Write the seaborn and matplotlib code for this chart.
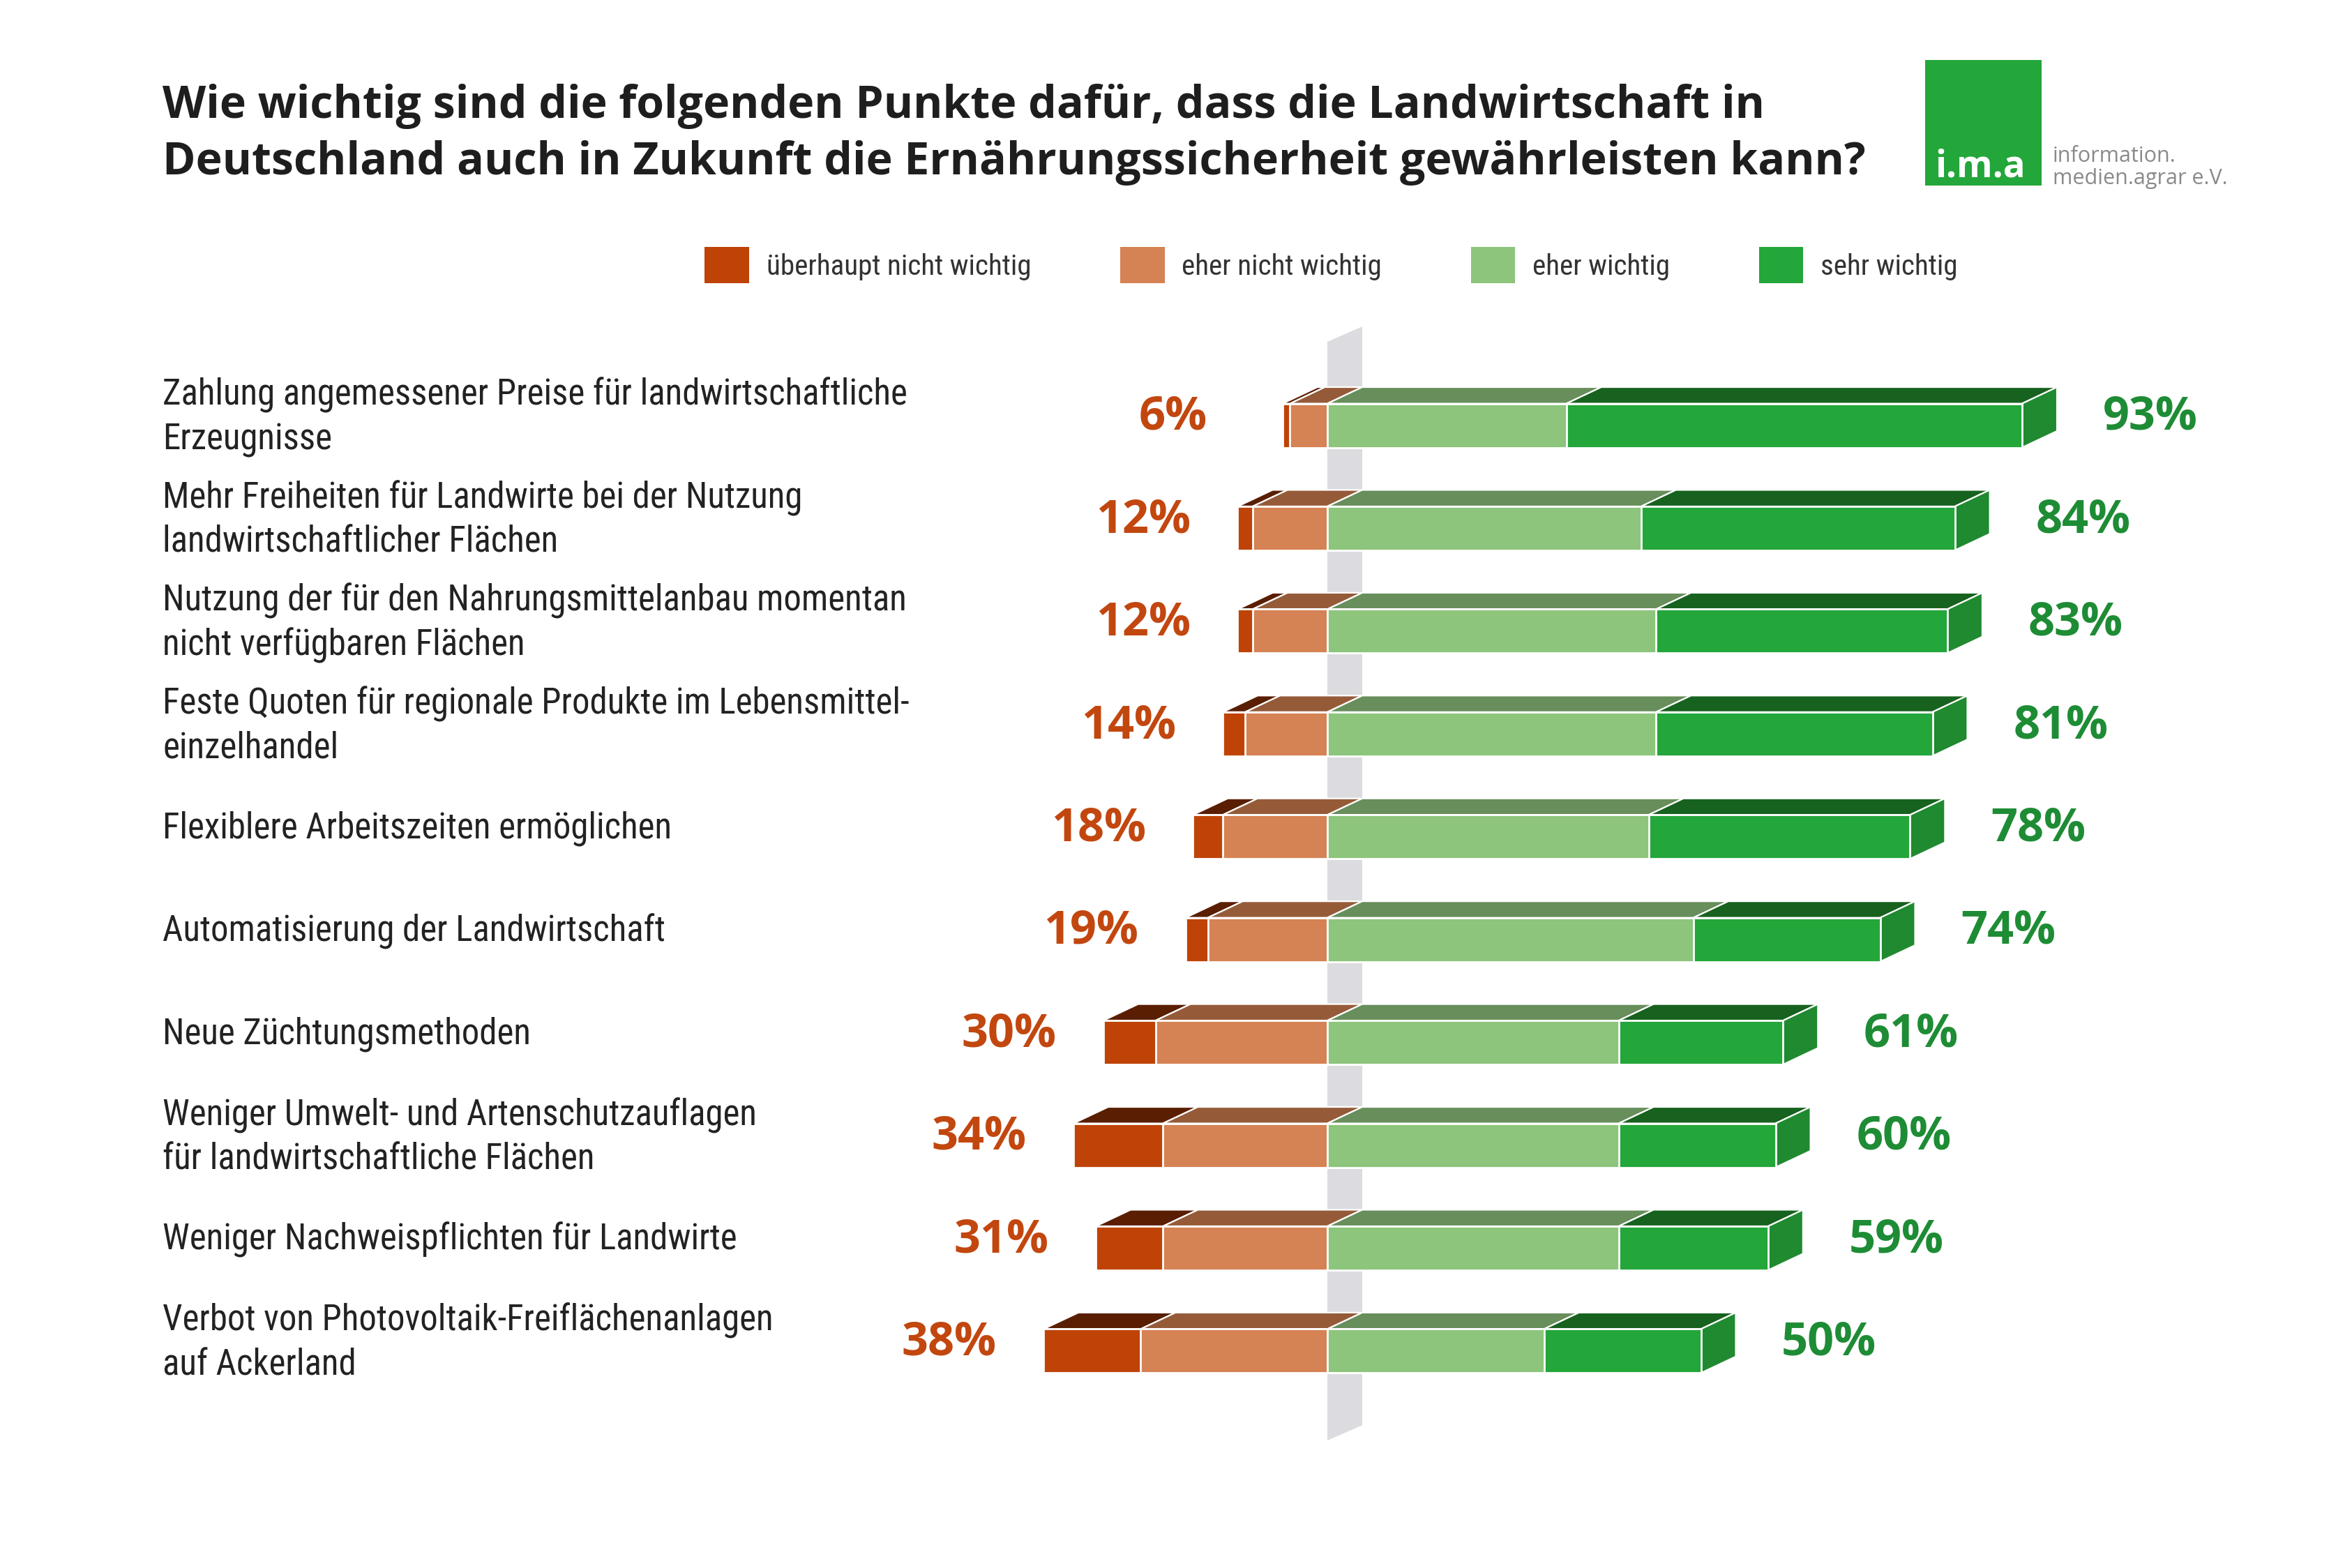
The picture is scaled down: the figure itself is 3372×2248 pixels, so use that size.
import numpy as np
import matplotlib
matplotlib.use("Agg")
import matplotlib.pyplot as plt
import seaborn as sns
from matplotlib import font_manager
from matplotlib.patches import Polygon, Patch, Rectangle

# --- data (percent of respondents) ---
labels = [
    "Zahlung angemessener Preise für landwirtschaftliche\nErzeugnisse",
    "Mehr Freiheiten für Landwirte bei der Nutzung\nlandwirtschaftlicher Flächen",
    "Nutzung der für den Nahrungsmittelanbau momentan\nnicht verfügbaren Flächen",
    "Feste Quoten für regionale Produkte im Lebensmittel-\neinzelhandel",
    "Flexiblere Arbeitszeiten ermöglichen",
    "Automatisierung der Landwirtschaft",
    "Neue Züchtungsmethoden",
    "Weniger Umwelt- und Artenschutzauflagen\nfür landwirtschaftliche Flächen",
    "Weniger Nachweispflichten für Landwirte",
    "Verbot von Photovoltaik-Freiflächenanlagen\nauf Ackerland",
]
ueberhaupt_nicht = [1, 2, 2, 3, 4, 3, 7, 12, 9, 13]
eher_nicht = [5, 10, 10, 11, 14, 16, 23, 22, 22, 25]
eher_wichtig = [32, 42, 44, 44, 43, 49, 39, 39, 39, 29]
sehr_wichtig = [61, 42, 39, 37, 35, 25, 22, 21, 20, 21]
total_neg_labels = [6, 12, 12, 14, 18, 19, 30, 34, 31, 38]
total_pos_labels = [93, 84, 83, 81, 78, 74, 61, 60, 59, 50]

legend_names = ["überhaupt nicht wichtig", "eher nicht wichtig", "eher wichtig", "sehr wichtig"]

# colours: front face / top face
front_cols = ["#BF4307", "#D58254", "#8CC57B", "#23A63A"]
top_cols = ["#5A1E02", "#955B39", "#678E5B", "#17621E"]
side_col = "#1F8A2F"
red_txt = "#C2470F"
green_txt = "#1E8C35"

# pick a condensed family if one is around, otherwise the narrowest plain one
installed = {f.name for f in font_manager.fontManager.ttflist}
narrow_first = next((n for n in ["Roboto Condensed", "Liberation Sans Narrow",
                                 "Open Sans Condensed", "Noto Sans Condensed", "Roboto"]
                     if n in installed), "DejaVu Sans")
condensed = narrow_first != "Roboto"
narrow = [narrow_first, "DejaVu Sans"]
bold_font = ["Open Sans", "DejaVu Sans"]
label_size = 18.3 if condensed else 16.5
legend_size = 14.8 if condensed else 13.5

sns.set_theme(style="white")
plt.rcParams["font.family"] = ["Open Sans", "DejaVu Sans"]

fig = plt.figure(figsize=(16.86, 11.24), dpi=200)
ax = fig.add_axes([0, 0, 1, 1])

neg_outer = -(np.array(ueberhaupt_nicht) + np.array(eher_nicht))
neg_inner = -np.array(eher_nicht)
pos_outer = np.array(eher_wichtig) + np.array(sehr_wichtig)
pos_inner = np.array(eher_wichtig)

bar_h = 0.427
dx, dy = 4.67, 0.16

# front faces: long bars first, shorter ones drawn on top
for vals, col in [(neg_outer, front_cols[0]), (neg_inner, front_cols[1]),
                  (pos_outer, front_cols[3]), (pos_inner, front_cols[2])]:
    sns.barplot(x=vals, y=labels, order=labels, orient="h", color=col, saturation=1,
                width=bar_h, edgecolor="white", linewidth=1.0, ax=ax, zorder=3)

# grey zero wall behind the bars
y_top, y_bot = -0.814, 9.87
ax.add_patch(Polygon([(0, y_top), (dx, y_top - dy * 0.93), (dx, y_bot - dy * 0.93), (0, y_bot)],
                     closed=True, facecolor="#DCDCE0", edgecolor="none", zorder=0))

# 3D top faces and right side face
for i in range(len(labels)):
    yt = i - bar_h / 2
    yb = i + bar_h / 2
    segs = [(neg_outer[i], neg_inner[i]), (neg_inner[i], 0),
            (0, pos_inner[i]), (pos_inner[i], pos_outer[i])]
    for (x0, x1), tc in zip(segs, top_cols):
        ax.add_patch(Polygon([(x0, yt), (x1, yt), (x1 + dx, yt - dy), (x0 + dx, yt - dy)],
                             closed=True, facecolor=tc, edgecolor="white", linewidth=0.8, zorder=2))
    xr = pos_outer[i]
    ax.add_patch(Polygon([(xr, yt), (xr + dx, yt - dy), (xr + dx, yb - dy), (xr, yb)],
                         closed=True, facecolor=side_col, edgecolor="white", linewidth=0.8, zorder=2))

    # value labels (negative ones never closer to the axis than a fixed column)
    yc = i - dy / 2
    ax.text(min(neg_outer[i] - 6.3, -16.1), yc, f"{total_neg_labels[i]}%", ha="right",
            va="center", color=red_txt, fontsize=24, fontweight="bold", family=bold_font)
    ax.text(pos_outer[i] + 10.8, yc, f"{total_pos_labels[i]}%", ha="left", va="center",
            color=green_txt, fontsize=24, fontweight="bold", family=bold_font)

    # category labels at the left edge
    ax.text(0.0691, yc, labels[i], transform=ax.get_yaxis_transform(), ha="left",
            va="center", fontsize=label_size, color="#222222", family=narrow, linespacing=1.33)

ax.set_xlim(-1903 / 10.71, (3372 - 1903) / 10.71)
ax.set_ylim(11.11, -4.138)
ax.axis("off")

# title
fig.text(0.0691, 1 - 120 / 2248,
         "Wie wichtig sind die folgenden Punkte dafür, dass die Landwirtschaft in\n"
         "Deutschland auch in Zukunft die Ernährungssicherheit gewährleisten kann?",
         ha="left", va="top", fontsize=23.2, fontweight="bold", color="#1E1E1E",
         family=bold_font, linespacing=1.33)

# legend
handles = [Patch(facecolor=c, edgecolor="none") for c in front_cols]
fig.legend(handles, legend_names, loc="center", bbox_to_anchor=(0.566, 1 - 380 / 2248),
           ncol=4, frameon=False, prop={"family": narrow, "size": legend_size},
           handlelength=1.55, handleheight=1.55, handletextpad=0.6, columnspacing=3.1,
           labelcolor="#333333")

# logo
fig.patches.append(Rectangle((2760 / 3372, 1 - 266 / 2248), 167 / 3372, 180 / 2248,
                             transform=fig.transFigure, facecolor="#23A63A", edgecolor="none"))
fig.text(2774 / 3372, 1 - 254 / 2248, "i.m.a", ha="left", va="baseline", color="white",
         fontsize=19, fontweight="bold", family=bold_font)
fig.text(2943 / 3372, 1 - 232 / 2248, "information.", ha="left", va="baseline",
         color="#8A8A8A", fontsize=11)
fig.text(2943 / 3372, 1 - 264 / 2248, "medien.agrar e.V.", ha="left", va="baseline",
         color="#8A8A8A", fontsize=11)

fig.savefig("out.png", dpi=200, facecolor="white")
